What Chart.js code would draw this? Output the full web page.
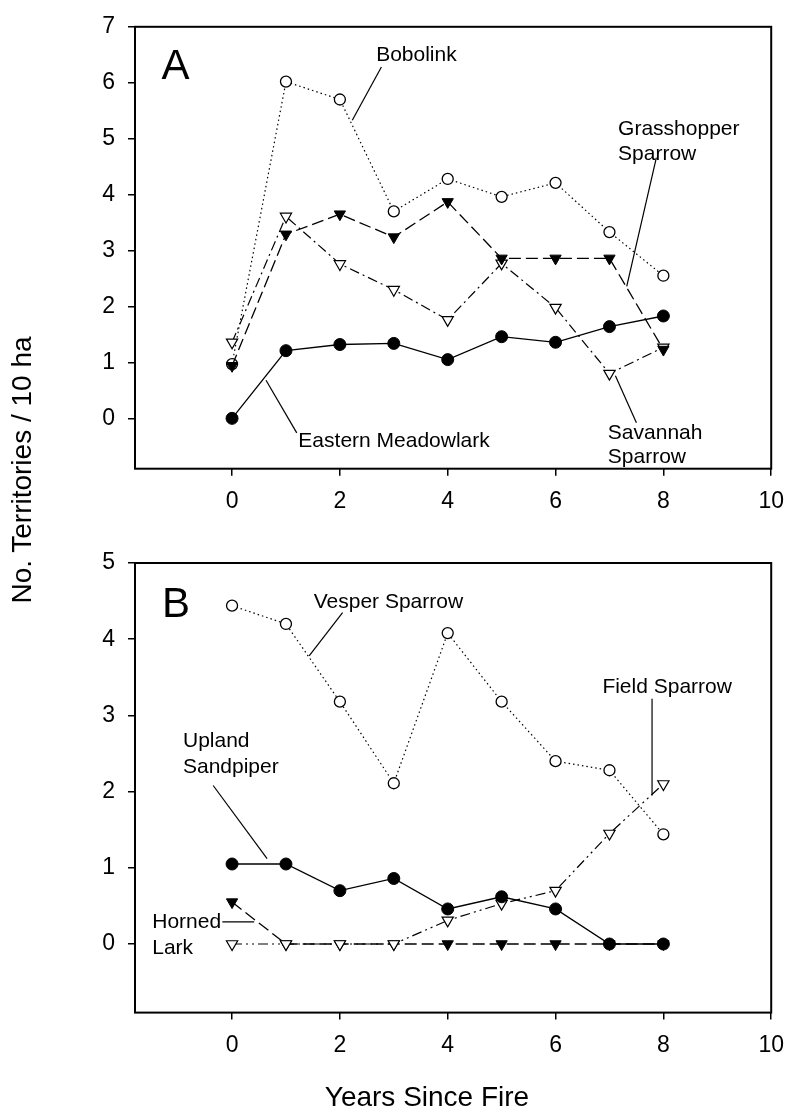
<!DOCTYPE html>
<html>
<head>
<meta charset="utf-8">
<script src="https://cdn.jsdelivr.net/npm/chart.js@4/dist/chart.umd.min.js"></script>
<style>
  body { margin: 0; background: #fff; }
  #wrap { position: relative; width: 796px; height: 1112px; font-family: "Liberation Sans", Arial, sans-serif; color: #000; }
  canvas { position: absolute; left: 0; }
  #panelA { top: 0; }
  #panelB { top: 530px; }
  .ttl { position: absolute; font-size: 28px; line-height: 32px; white-space: nowrap; text-align: center; width: 400px; }
  #ytitle { left: -178px; top: 454px; transform: rotate(-90deg); }
  #xtitle { left: 227px; top: 1081px; }
</style>
</head>
<body>
<div id="wrap">
  <canvas id="panelA" width="796" height="530"></canvas>
  <canvas id="panelB" width="796" height="582"></canvas>
  <div class="ttl" id="ytitle">No. Territories / 10 ha</div>
  <div class="ttl" id="xtitle">Years Since Fire</div>
</div>
<script>
// years since fire and tick labels
const years = [0, 1, 2, 3, 4, 5, 6, 7, 8];
const xTicks = [0, 2, 4, 6, 8, 10];
const yTicksA = [0, 1, 2, 3, 4, 5, 6, 7];
const yTicksB = [0, 1, 2, 3, 4, 5];

// panel A
const meadowlark  = [0, 1.21, 1.32, 1.34, 1.05, 1.46, 1.36, 1.64, 1.83];
const bobolink    = [0.97, 6.02, 5.70, 3.70, 4.28, 3.96, 4.21, 3.33, 2.55];
const grasshopper = [0.94, 3.29, 3.65, 3.24, 3.87, 2.86, 2.86, 2.86, 1.23];
const savannah    = [1.36, 3.61, 2.76, 2.30, 1.76, 2.77, 1.98, 0.80, 1.27];

// panel B
const vesper  = [4.44, 4.20, 3.18, 2.11, 4.08, 3.18, 2.40, 2.28, 1.44];
const upland  = [1.05, 1.05, 0.70, 0.86, 0.46, 0.62, 0.46, 0, 0];
const field   = [0, 0, 0, 0, 0.31, 0.53, 0.70, 1.45, 2.10];
const horned  = [0.55, 0, 0, 0, 0, 0, 0, 0, 0];

const FONT = '"Liberation Sans", Arial, sans-serif';

// labels + leader lines, in data units
const notes = {
  panelA: {
    labels: [
      { text: 'A', x: -1.05, y: 6.27, align: 'center', size: 42 },
      { text: 'Bobolink', x: 3.42, y: 6.49, align: 'center' },
      { text: 'Grasshopper', x: 7.16, y: 5.17, align: 'left' },
      { text: 'Sparrow', x: 7.16, y: 4.72, align: 'left' },
      { text: 'Savannah', x: 6.97, y: -0.26, align: 'left' },
      { text: 'Sparrow', x: 6.97, y: -0.69, align: 'left' },
      { text: 'Eastern Meadowlark', x: 1.23, y: -0.40, align: 'left' }
    ],
    leaders: [[2.77, 6.28, 2.23, 5.33], [7.87, 4.66, 7.32, 2.36], [7.50, -0.08, 7.11, 0.76], [1.20, -0.26, 0.63, 0.68]]
  },
  panelB: {
    labels: [
      { text: 'B', x: -1.04, y: 4.44, align: 'center', size: 42 },
      { text: 'Vesper Sparrow', x: 2.90, y: 4.48, align: 'center' },
      { text: 'Field Sparrow', x: 8.07, y: 3.37, align: 'center' },
      { text: 'Upland', x: -0.91, y: 2.66, align: 'left' },
      { text: 'Sandpiper', x: -0.91, y: 2.32, align: 'left' },
      { text: 'Horned', x: -1.48, y: 0.29, align: 'left' },
      { text: 'Lark', x: -1.48, y: -0.05, align: 'left' }
    ],
    leaders: [[2.05, 4.35, 1.43, 3.78], [7.79, 3.22, 7.79, 1.95], [-0.35, 2.08, 0.65, 1.12], [-0.18, 0.29, 0.41, 0.29]]
  }
};

const notesPlugin = {
  id: 'notes',
  afterDatasetsDraw(chart) {
    const ctx = chart.ctx;
    const a = chart.chartArea;
    const xs = chart.scales.x, ys = chart.scales.y;
    ctx.save();
    ctx.strokeStyle = '#000';
    ctx.lineWidth = 2;
    ctx.strokeRect(a.left, a.top, a.right - a.left, a.bottom - a.top);

    const n = notes[chart.canvas.id];
    ctx.lineWidth = 1.2;
    n.leaders.forEach(l => {
      ctx.beginPath();
      ctx.moveTo(xs.getPixelForValue(l[0]), ys.getPixelForValue(l[1]));
      ctx.lineTo(xs.getPixelForValue(l[2]), ys.getPixelForValue(l[3]));
      ctx.stroke();
    });
    ctx.fillStyle = '#000';
    ctx.textBaseline = 'middle';
    n.labels.forEach(t => {
      ctx.font = (t.size || 21) + 'px ' + FONT;
      ctx.textAlign = t.align;
      ctx.fillText(t.text, xs.getPixelForValue(t.x), ys.getPixelForValue(t.y));
    });
    ctx.restore();
  }
};

const solid = { borderWidth: 1.3, pointStyle: 'circle', pointRadius: 6, pointBackgroundColor: '#000', pointBorderWidth: 1 };
const dotted = { borderWidth: 1.2, borderDash: [1.5, 3], pointStyle: 'circle', pointRadius: 5.5, pointBackgroundColor: '#fff', pointBorderWidth: 1.3 };
const dashed = { borderWidth: 1.3, borderDash: [12, 5], pointStyle: 'triangle', pointRotation: 180, pointRadius: 6.5, pointBackgroundColor: '#000', pointBorderWidth: 1 };
const dashDot = { borderWidth: 1.2, borderDash: [10, 4, 2, 4], pointStyle: 'triangle', pointRotation: 180, pointRadius: 6.5, pointBackgroundColor: '#fff', pointBorderWidth: 1.2 };
const dashDotDot = { borderWidth: 1.2, borderDash: [10, 4, 2, 4, 2, 4], pointStyle: 'triangle', pointRotation: 180, pointRadius: 6.5, pointBackgroundColor: '#fff', pointBorderWidth: 1.2 };

function series(label, vals, style) {
  return Object.assign({
    label: label,
    data: years.map((x, i) => ({ x: x, y: vals[i] })),
    borderColor: '#000',
    pointBorderColor: '#000',
    tension: 0,
    fill: false
  }, style);
}

function makePanel(id, datasets, yTicks, ymax, padTop, xHeight) {
  return new Chart(document.getElementById(id), {
    type: 'line',
    data: { datasets: datasets },
    options: {
      responsive: false,
      animation: false,
      devicePixelRatio: 1,
      layout: { padding: { top: padTop, right: 18, left: 0, bottom: 0 } },
      plugins: { legend: { display: false }, tooltip: { enabled: false } },
      scales: {
        x: {
          type: 'linear', min: -1.8, max: 10,
          border: { display: false },
          grid: { display: true, drawOnChartArea: false, drawTicks: true, tickLength: 7, tickColor: '#000', lineWidth: 1.5 },
          ticks: { color: '#000', padding: 12, font: { family: FONT, size: 23 } },
          afterBuildTicks: s => { s.ticks = xTicks.map(v => ({ value: v })); },
          afterFit: s => { s.height = xHeight; }
        },
        y: {
          type: 'linear', min: -0.9, max: ymax,
          border: { display: false },
          grid: { display: true, drawOnChartArea: false, drawTicks: true, tickLength: 7, tickColor: '#000', lineWidth: 1.5 },
          ticks: { color: '#000', padding: 13, font: { family: FONT, size: 23 } },
          afterBuildTicks: s => { s.ticks = yTicks.map(v => ({ value: v })); },
          afterFit: s => { s.width = 135; }
        }
      }
    },
    plugins: [notesPlugin]
  });
}

makePanel('panelA', [
  series('Eastern Meadowlark', meadowlark, solid),
  series('Grasshopper Sparrow', grasshopper, dashed),
  series('Savannah Sparrow', savannah, dashDot),
  series('Bobolink', bobolink, dotted)
], yTicksA, 7, 16, 61.3);

makePanel('panelB', [
  series('Upland Sandpiper', upland, solid),
  series('Field Sparrow', field, dashDotDot),
  series('Horned Lark', horned, dashed),
  series('Vesper Sparrow', vesper, dotted)
], yTicksB, 5, 33, 99.4);
</script>
</body>
</html>
